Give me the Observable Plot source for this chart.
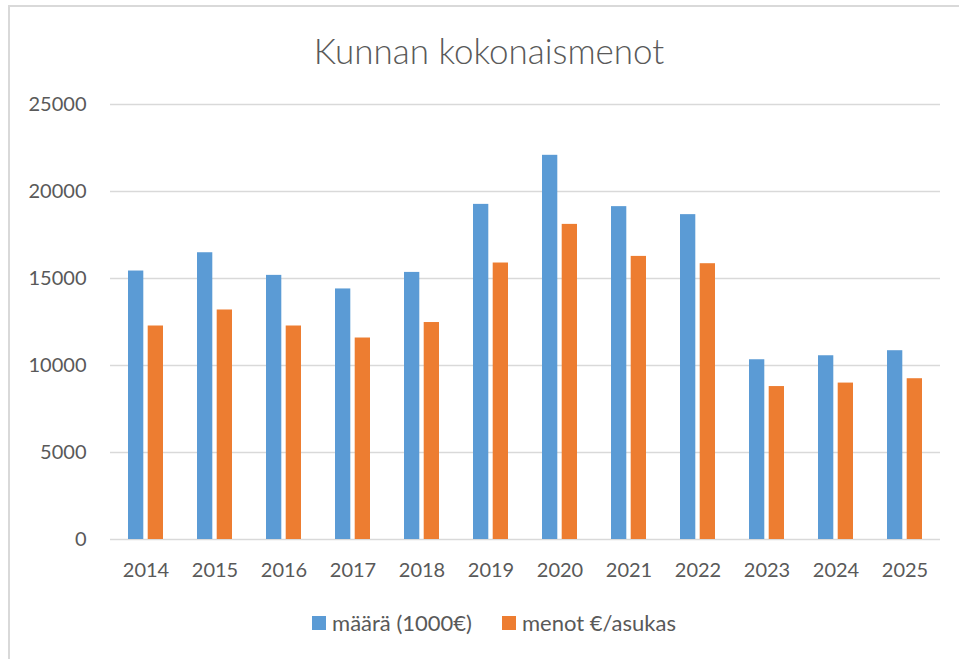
<!DOCTYPE html>
<html>
<head>
<meta charset="utf-8">
<script src="https://cdn.jsdelivr.net/npm/d3@7"></script>
<script src="https://cdn.jsdelivr.net/npm/@observablehq/plot@0.6"></script>
<style>
  html, body { margin: 0; padding: 0; background: #fff; }
  #wrap { position: relative; width: 959px; height: 659px; overflow: hidden; font-family: Lato, "Open Sans", sans-serif; color: #595959; }
  #frame { position: absolute; left: 8px; top: 5px; width: 1000px; height: 700px; border-left: 2px solid #d9d9d9; border-top: 2px solid #d9d9d9; box-sizing: border-box; }
  #title { position: absolute; left: 0; width: 978px; top: 27px; text-align: center; font-size: 35px; font-weight: 300; color: #595959; line-height: 46px; }
  #chart { position: absolute; left: 0; top: 0; }
  #legend { position: absolute; left: 0; width: 988px; top: 608px; text-align: center; font-size: 22px; color: #595959; line-height: 28px; white-space: nowrap; }
  .li { display: inline-flex; align-items: center; margin: 0 15px; }
  .sw { width: 14px; height: 14px; display: inline-block; margin-right: 6px; }
</style>
</head>
<body>
<div id="wrap">
  <div id="frame"></div>
  <div id="chart"></div>
  <div id="title">Kunnan kokonaismenot</div>
  <div id="legend"></div>
</div>
<script>
const years = ["2014","2015","2016","2017","2018","2019","2020","2021","2022","2023","2024","2025"];
const maara = [15430, 16480, 15180, 14400, 15350, 19260, 22080, 19130, 18670, 10330, 10560, 10850];
const menot = [12270, 13190, 12270, 11580, 12470, 15890, 18110, 16270, 15850, 8790, 8990, 9240];
const seriesNames = ["määrä (1000€)", "menot €/asukas"];
const seriesColors = ["#5B9BD5", "#ED7D31"];
const yTicks = [0, 5000, 10000, 15000, 20000, 25000];

const dataA = years.map((y, i) => ({year: y, value: maara[i], series: seriesNames[0]}));
const dataB = years.map((y, i) => ({year: y, value: menot[i], series: seriesNames[1]}));

const chart = Plot.plot({
  width: 959,
  height: 600,
  marginLeft: 110,
  marginRight: 19,
  marginTop: 104,
  marginBottom: 61,
  style: {fontFamily: "Lato, 'Open Sans', sans-serif", fontSize: "20px", color: "#595959", background: "transparent"},
  x: {domain: years, paddingInner: 0.494, paddingOuter: 0.247, label: null, tickSize: 0, tickPadding: 23},
  y: {domain: [0, 25000], ticks: yTicks, label: null, tickSize: 0, tickPadding: 24, tickFormat: d => String(d)},
  color: {domain: seriesNames, range: seriesColors},
  marks: [
    Plot.ruleY(yTicks, {stroke: "#d9d9d9", strokeWidth: 1.5}),
    Plot.barY(dataA, {x: "year", y: "value", fill: "series", insetRight: 19.7, insetLeft: 0}),
    Plot.barY(dataB, {x: "year", y: "value", fill: "series", insetLeft: 19.7, insetRight: 0})
  ]
});
document.getElementById("chart").appendChild(chart);

const legend = document.getElementById("legend");
seriesNames.forEach((n, i) => {
  const item = document.createElement("span");
  item.className = "li";
  const sw = document.createElement("span");
  sw.className = "sw";
  sw.style.background = seriesColors[i];
  item.appendChild(sw);
  item.appendChild(document.createTextNode(n));
  legend.appendChild(item);
});
</script>
</body>
</html>
